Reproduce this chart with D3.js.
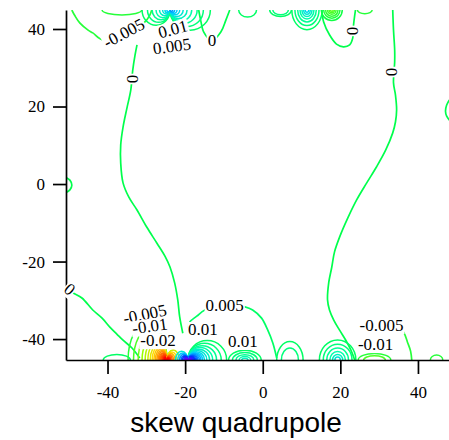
<!DOCTYPE html>
<html>
<head>
<meta charset="utf-8">
<script src="https://cdn.jsdelivr.net/npm/d3@7"></script>
<style>
  body { margin: 0; background: #fff; }
</style>
</head>
<body>
<div id="chart"></div>
<script>
// axis ranges and ticks, in axis units
const xDomain = [-50.7, 48];
const yDomain = [-45.4, 44.9];
const xTicks = [-40, -20, 0, 20, 40];
const yTicks = [-40, -20, 0, 20, 40];
const xTitle = "skew quadrupole";

// long contour lines, [x, y]
const zeroLeft = [[-32.4,35.9],[-32.9,33.3],[-33.5,29.4],[-34.0,24.3],[-35.0,19.6],[-36.0,14.7],[-36.6,10.1],[-36.6,5.4],[-36.0,0.3],[-34.5,-3.4],[-32.4,-6.7],[-29.9,-11.1],[-27.3,-15.2],[-25.2,-18.6],[-23.9,-21.4],[-22.7,-25.5],[-21.9,-29.9],[-21.4,-34.3],[-20.6,-38.5]];
const zeroRight = [[33.5,44.9],[33.7,39.7],[34.0,34.6],[34.0,31.5],[33.7,26.1],[34.2,23.0],[34.5,19.1],[34.2,16.0],[33.5,13.2],[31.7,8.8],[29.3,4.4],[26.8,0.3],[24.2,-4.1],[21.9,-8.8],[19.8,-13.7],[18.5,-17.5],[17.8,-21.4],[17.0,-25.5],[16.7,-29.9],[17.2,-32.5],[18.3,-35.1],[19.8,-37.7],[21.4,-40.3],[22.7,-42.8],[23.7,-45.4]];
const zeroLowLeft = [[-52.3,-25.0],[-50.7,-26.3],[-49.2,-27.9],[-46.6,-29.4],[-43.8,-32.5],[-41.4,-34.6],[-39.4,-36.9],[-37.6,-38.7],[-36.0,-40.3],[-33.7,-42.3],[-31.7,-44.9]];
const zeroTopU = [[-16.5,44.9],[-16.0,42.3],[-15.2,39.2],[-13.1,37.0],[-10.8,39.2],[-9.5,42.3],[-8.5,44.9]];
const zeroTopRight = [[15.2,44.9],[15.7,41.8],[17.2,38.5],[19.0,36.1],[20.8,35.4],[22.4,35.9],[23.2,37.7],[23.4,41.0],[23.9,44.9]];
const minusTopLeft = [[-49.2,44.9],[-48.4,43.4],[-47.1,41.5],[-45.0,39.7],[-43.8,39.0],[-41.2,37.2],[-35.8,39.0],[-30.4,41.8],[-29.1,43.6],[-28.6,44.9]];
const plusBottom = [[-19.3,-37.2],[-18.8,-35.6],[-17.0,-34.1],[-14.9,-32.5],[-9.8,-31.2],[-4.6,-31.7],[-2.6,-32.5],[-0.3,-34.6],[1.3,-37.7],[2.6,-41.0],[3.6,-44.9]];
const minusBottomRight = [[33.0,-35.8],[34.7,-36.6],[36.3,-38.2],[37.3,-40.8],[38.1,-43.1],[38.4,-45.4]];
const leftEdgeArc = [[-50.9,1.8],[-49.7,1.0],[-49.2,-0.3],[-49.7,-1.5],[-50.9,-2.3]];
const rightEdgeArc = [[48.1,21.7],[47.4,20.4],[47.1,18.8],[47.4,17.5],[48.1,16.5]];

const contourLines = [
  { pts: zeroLeft, level: 0 },
  { pts: zeroRight, level: 0 },
  { pts: zeroLowLeft, level: 0 },
  { pts: zeroTopU, level: 0 },
  { pts: zeroTopRight, level: 0 },
  { pts: minusTopLeft, level: -0.005 },
  { pts: plusBottom, level: 0.005 },
  { pts: minusBottomRight, level: -0.005 },
  { pts: leftEdgeArc, level: 0 },
  { pts: rightEdgeArc, level: 0 },
];

// families of small loops sitting on the top/bottom edge
// x: where they meet, side -1/1 = loops touching there and opening left/right, 0 = rings
// r: loop radius (axis units), ratio: height / radius, level: contour value
const botRedLeft = { x: -24.7, edge: "bottom", side: -1, ratio: 1.9,
  r: [5.0,4.3,3.7,3.2,2.8,2.45,2.15,1.9,1.68,1.48,1.3,1.14,1.0,0.87,0.75,0.64,0.54,0.45,0.37,0.3,0.23,0.17,0.11,0.06],
  level: [-0.005,-0.01,-0.015,-0.02,-0.025,-0.03,-0.035,-0.04,-0.045,-0.05,-0.055,-0.06,-0.065,-0.07,-0.075,-0.08,-0.085,-0.09,-0.095,-0.1,-0.105,-0.11,-0.115,-0.12] };
const botRedRight = { x: -24.7, edge: "bottom", side: 1, ratio: 1.6,
  r: [1.6,1.3,1.05,0.85,0.67,0.52,0.39,0.28,0.18,0.1],
  level: [-0.03,-0.04,-0.05,-0.06,-0.07,-0.08,-0.09,-0.1,-0.11,-0.12] };
const botBlueRight = { x: -19.3, edge: "bottom", side: 1, ratio: 1.0,
  r: [5.0,4.3,3.7,3.2,2.8,2.45,2.15,1.9,1.68,1.48,1.3,1.14,1.0,0.87,0.75,0.64,0.54,0.45,0.37,0.3,0.23,0.17,0.11,0.06],
  level: [0.005,0.01,0.015,0.02,0.025,0.03,0.035,0.04,0.045,0.05,0.055,0.06,0.065,0.07,0.075,0.08,0.085,0.09,0.095,0.1,0.105,0.11,0.115,0.12] };
const botBlueLeft = { x: -19.3, edge: "bottom", side: -1, ratio: 1.4,
  r: [1.6,1.3,1.05,0.85,0.67,0.52,0.39,0.28,0.18,0.1],
  level: [0.03,0.04,0.05,0.06,0.07,0.08,0.09,0.1,0.11,0.12] };
const topBlueRight = { x: -23.9, edge: "top", side: 1, ratio: 1.0,
  r: [5.2,4.3,3.5,2.8,2.2,1.7,1.25,0.9,0.6,0.35],
  level: [0.005,0.01,0.015,0.02,0.025,0.03,0.035,0.04,0.045,0.05] };
const topBlueLeft = { x: -23.9, edge: "top", side: -1, ratio: 1.1,
  r: [3.6,2.9,2.3,1.8,1.35,0.95,0.65,0.4],
  level: [0.005,0.01,0.015,0.02,0.025,0.03,0.035,0.04] };
const topCyan = { x: 11.4, edge: "top", side: 0, ratio: 1.3,
  r: [3.9,3.1,2.4,1.8,1.3,0.85,0.45], level: [0.005,0.01,0.015,0.02,0.025,0.03,0.035] };
const topGreen = { x: 17.8, edge: "top", side: 0, ratio: 1.0,
  r: [2.7,2.1,1.6,1.1,0.7,0.35], level: [-0.002,-0.004,-0.006,-0.008,-0.01,-0.012] };
const topSmallA = { x: 4.6, edge: "top", side: 0, ratio: 0.6, r: [2.8,2.0], level: [0.005,0.01] };
const topSmallB = { x: -3.9, edge: "top", side: 0, ratio: 0.8, r: [2.3], level: [0.005] };
const topSmallC = { x: 26.3, edge: "top", side: 0, ratio: 0.5, r: [1.9], level: [-0.005] };
const topSmallD = { x: -36.3, edge: "top", side: 0, ratio: 0.25, r: [5.1], level: [-0.005] };
const botRingA = { x: -4.6, edge: "bottom", side: 0, ratio: 0.6, r: [4.2,3.2,2.3,1.5,0.8], level: [0.005,0.01,0.015,0.02,0.025] };
const botRingB = { x: 7.0, edge: "bottom", side: 0, ratio: 1.4, r: [3.4,2.2], level: [0.005,0.01] };
const botRingC = { x: 19.3, edge: "bottom", side: 0, ratio: 1.1, r: [4.7,3.7,2.8,2.0,1.3,0.7], level: [0.005,0.01,0.015,0.02,0.025,0.03] };
const botRingD = { x: 28.8, edge: "bottom", side: 0, ratio: 0.4, r: [4.2,2.8], level: [-0.005,-0.01] };
const botRingE = { x: 44.8, edge: "bottom", side: 0, ratio: 0.8, r: [1.6], level: [-0.005] };
const botRingF = { x: -37.6, edge: "bottom", side: 0, ratio: 0.4, r: [3.5], level: [0.005] };

const loopFamilies = [botRingF, botRingA, botRingB, botRingC, botRingD, botRingE,
  botRedLeft, botBlueRight, botRedRight, botBlueLeft,
  topSmallA, topSmallB, topSmallC, topSmallD, topCyan, topGreen, topBlueLeft, topBlueRight];

// contour labels: text, x, y, angle
const contourLabels = [
  ["-0.005", -35.8, 39.0, -28],
  ["0.01", -23.2, 40.0, -15],
  ["0.005", -23.4, 35.6, -8],
  ["0", -13.1, 37.2, 0],
  ["0", 23.2, 39.5, 90],
  ["0", 33.2, 28.9, 90],
  ["0", -33.5, 27.1, 90],
  ["0", -49.7, -27.1, 41],
  ["-0.005", -30.4, -33.5, -12],
  ["-0.01", -29.1, -36.6, -8],
  ["-0.02", -27.0, -40.3, 0],
  ["0.01", -15.4, -37.4, 0],
  ["0.005", -9.8, -31.2, 0],
  ["0.01", -5.1, -40.5, 0],
  ["-0.005", 30.6, -36.4, 0],
  ["-0.01", 29.1, -41.3, 0],
];

const W = 449, H = 440;
const plot = { left: 66, right: 449, top: 10, bottom: 360 };
const serif = "'Liberation Serif', 'Times New Roman', serif";

const color = d3.scaleLinear()
  .domain([-0.1, -0.07, -0.04, -0.02, 0, 0.02, 0.04, 0.07, 0.1])
  .range(["#ff0000", "#ff6600", "#ffdd00", "#99ff00", "#00ff4c", "#00ffaa", "#00ccff", "#0033ff", "#6600ff"])
  .clamp(true);

const svg = d3.select("#chart").append("svg").attr("width", W).attr("height", H);

const x = d3.scaleLinear().domain(xDomain).range([plot.left, plot.right]);
const y = d3.scaleLinear().domain(yDomain).range([plot.bottom, plot.top]);

svg.append("clipPath").attr("id", "plotClip").append("rect")
  .attr("x", plot.left).attr("y", plot.top)
  .attr("width", plot.right - plot.left).attr("height", plot.bottom - plot.top);

const g = svg.append("g").attr("clip-path", "url(#plotClip)");

const line = d3.line().x((d) => x(d[0])).y((d) => y(d[1])).curve(d3.curveCatmullRom);

g.selectAll("path.contour")
  .data(contourLines)
  .join("path")
  .attr("class", "contour")
  .attr("d", (d) => line(d.pts))
  .attr("fill", "none")
  .attr("stroke", (d) => color(d.level))
  .attr("stroke-width", 1.7);

// half ellipse standing on the edge
function loopPath(f, r) {
  const cx = f.x + f.side * r;
  const rx = Math.abs(x(cx + r) - x(cx));
  const ry = Math.abs(y(0) - y(r * f.ratio));
  const y0 = f.edge === "top" ? y(yDomain[1]) : y(yDomain[0]);
  const sweep = f.edge === "top" ? 0 : 1;
  return `M${x(cx) - rx},${y0} A${rx},${ry} 0 0 ${sweep} ${x(cx) + rx},${y0}`;
}

const loops = loopFamilies.flatMap((f) => f.r.map((r, i) => ({ f, r, level: f.level[i] })));

g.selectAll("path.loop")
  .data(loops)
  .join("path")
  .attr("class", "loop")
  .attr("d", (d) => loopPath(d.f, d.r))
  .attr("fill", "none")
  .attr("stroke", (d) => color(d.level))
  .attr("stroke-width", 1.5);

// axes
const xAxis = svg.append("g")
  .attr("transform", `translate(0,${plot.bottom})`)
  .call(d3.axisBottom(x).tickValues(xTicks).tickSize(14).tickSizeOuter(0).tickPadding(12).tickFormat((d) => String(d)));
const yAxis = svg.append("g")
  .attr("transform", `translate(${plot.left},0)`)
  .call(d3.axisLeft(y).tickValues(yTicks).tickSize(13).tickSizeOuter(0).tickPadding(8).tickFormat((d) => String(d)));

[xAxis, yAxis].forEach((a) => {
  a.selectAll("path, line").attr("stroke", "#000").attr("stroke-width", 1.7);
  a.selectAll("text").attr("fill", "#000").style("font-family", serif).style("font-size", "17px");
});

svg.append("text")
  .attr("x", 236)
  .attr("y", 432)
  .attr("text-anchor", "middle")
  .style("font-family", "'Liberation Sans', Arial, sans-serif")
  .style("font-size", "28px")
  .text(xTitle);

// contour labels on white boxes
const lab = svg.selectAll("g.clabel")
  .data(contourLabels)
  .join("g")
  .attr("class", "clabel")
  .attr("transform", (d) => `translate(${x(d[1])},${y(d[2])}) rotate(${d[3]})`);

lab.each(function (d) {
  const gl = d3.select(this);
  const t = gl.append("text")
    .attr("text-anchor", "middle")
    .attr("dy", "0.35em")
    .style("font-family", serif)
    .style("font-size", "17px")
    .text(d[0]);
  const b = t.node().getBBox();
  gl.insert("rect", "text")
    .attr("x", b.x - 1).attr("y", b.y + 2)
    .attr("width", b.width + 2).attr("height", b.height - 3)
    .attr("fill", "#fff");
});
</script>
</body>
</html>
